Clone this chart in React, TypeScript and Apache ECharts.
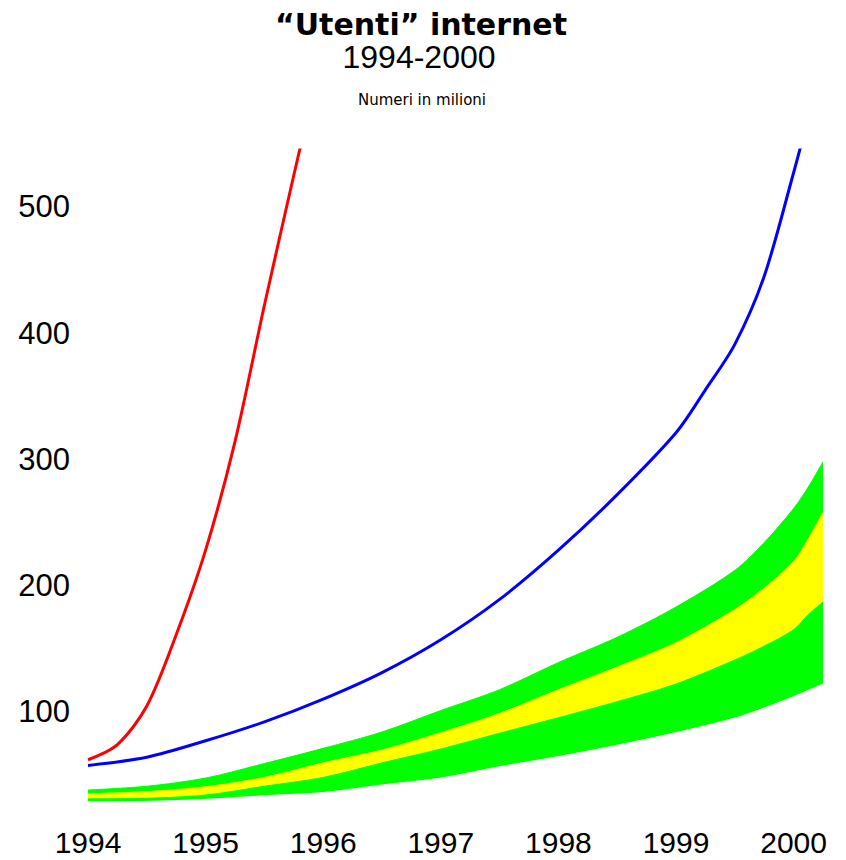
import React, { useEffect, useRef } from "react";
import * as echarts from "echarts";

const titleMain = "“Utenti” internet";
const titleYears = "1994-2000";
const subtitle = "Numeri in milioni";

const xTicks = [1994, 1995, 1996, 1997, 1998, 1999, 2000];
const yTicks = [100, 200, 300, 400, 500];

// Band (green / yellow fan)
const bandYears = [1994, 1994.5, 1995, 1995.5, 1996, 1996.5, 1997, 1997.5, 1998, 1998.5, 1999, 1999.5, 1999.75, 2000, 2000.125, 2000.25];
const greenTop = [38, 41, 47.5, 59, 71, 84, 101, 117.5, 139, 159, 183, 212, 234, 261, 278, 298];
const yellowTop = [35, 36.7, 40.6, 48, 59.5, 69.7, 83.4, 98.7, 117.4, 135.5, 154.7, 181, 198, 219, 237, 258];
const yellowBottom = [31, 31.5, 34, 41, 48, 59.5, 70.5, 83, 95.3, 108, 122, 141, 152, 165, 177, 187];
const greenBottom = [28.7, 29, 30.6, 33.5, 36, 42, 47.5, 56.5, 64.5, 73.5, 83.5, 95, 103, 112, 117, 122];

// Red curve
const redYears = [1994, 1994.25, 1994.5, 1994.75, 1995, 1995.25, 1995.5, 1995.75, 1995.85];
const redValues = [62, 74, 104.5, 161, 228, 314, 422, 525, 565];

// Blue curve
const blueYears = [1994, 1994.5, 1995, 1995.5, 1996, 1996.5, 1997, 1997.5, 1998, 1998.5, 1999, 1999.25, 1999.5, 1999.75, 2000, 2000.1];
const blueValues = [57.5, 64, 77, 92, 110, 131, 157, 189, 228, 272, 321, 355, 391, 445, 527, 562];

const labelFont = "'Liberation Sans', Arial, sans-serif";

function buildOption(): any {
  const pairs = (xs: number[], ys: number[]) => xs.map((x, i) => [x, ys[i]]);
  const area = (name: string, ys: number[], color: string) => ({
    type: "line",
    name,
    smooth: 0.3,
    showSymbol: false,
    symbol: "none",
    silent: true,
    data: pairs(bandYears, ys),
    lineStyle: { width: 1, color },
    areaStyle: { color, opacity: 1, origin: "start" },
  });
  return {
    animation: false,
    backgroundColor: "#ffffff",
    graphic: [
      {
        type: "text",
        x: 421,
        y: 24,
        style: {
          text: titleMain,
          font: "bold 30px 'DejaVu Sans', sans-serif",
          fill: "#000",
          textAlign: "center",
          textVerticalAlign: "middle",
        },
      },
      {
        type: "text",
        x: 419,
        y: 57,
        style: {
          text: titleYears,
          font: "32px 'Liberation Sans', Arial, sans-serif",
          fill: "#000",
          textAlign: "center",
          textVerticalAlign: "middle",
        },
      },
      {
        type: "text",
        x: 422,
        y: 100,
        style: {
          text: subtitle,
          font: "15px 'DejaVu Sans', sans-serif",
          fill: "#000",
          textAlign: "center",
          textVerticalAlign: "middle",
        },
      },
    ],
    grid: { left: 88, right: 23, top: 150, bottom: 22, containLabel: false },
    xAxis: {
      type: "value",
      min: 1994,
      max: 2000.25,
      interval: 1,
      z: 10,
      axisLine: { show: false },
      axisTick: { show: false },
      splitLine: { show: false },
      axisLabel: {
        margin: -11,
        fontSize: 30,
        lineHeight: 30,
        fontFamily: labelFont,
        color: "#000",
        formatter: (v: number) => (xTicks.includes(v) ? String(v) : ""),
      },
    },
    yAxis: {
      type: "value",
      min: 0,
      max: 545,
      interval: 100,
      axisLine: { show: false },
      axisTick: { show: false },
      splitLine: { show: false },
      axisLabel: {
        margin: 18,
        fontSize: 31,
        fontFamily: labelFont,
        color: "#000",
        formatter: (v: number) => (yTicks.includes(v) ? String(v) : ""),
      },
    },
    series: [
      area("green-top", greenTop, "#00ff00"),
      area("yellow-top", yellowTop, "#ffff00"),
      area("green-mid", yellowBottom, "#00ff00"),
      area("white-base", greenBottom, "#ffffff"),
      {
        type: "line",
        name: "blue",
        smooth: 0.3,
        showSymbol: false,
        symbol: "none",
        clip: true,
        data: pairs(blueYears, blueValues),
        lineStyle: { color: "#0000ff", width: 3 },
      },
      {
        type: "line",
        name: "red",
        smooth: 0.3,
        showSymbol: false,
        symbol: "none",
        clip: true,
        data: pairs(redYears, redValues),
        lineStyle: { color: "#ff0000", width: 3 },
      },
    ],
  };
}

export default function App() {
  const ref = useRef<HTMLDivElement>(null);
  useEffect(() => {
    if (!ref.current) return;
    const chart = echarts.init(ref.current, null, { renderer: "svg" });
    chart.setOption(buildOption());
    return () => chart.dispose();
  }, []);
  return (
    <div
      ref={ref}
      style={{ position: "fixed", left: 0, top: 0, width: 846, height: 860, background: "#fff" }}
    />
  );
}
